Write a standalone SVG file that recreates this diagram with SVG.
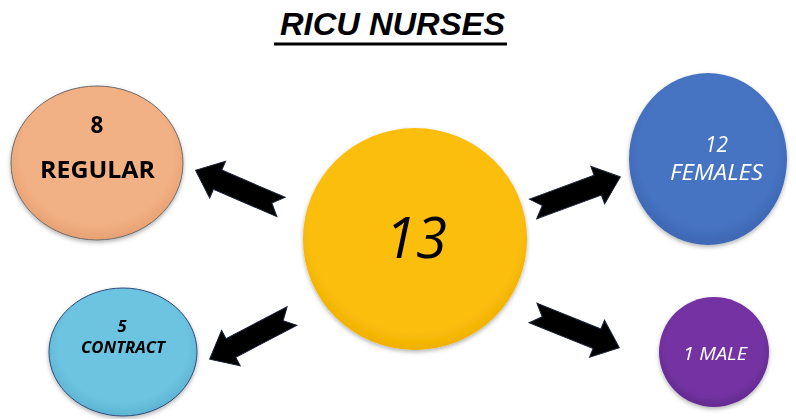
<svg xmlns="http://www.w3.org/2000/svg" xmlns:xlink="http://www.w3.org/1999/xlink" width="796" height="419" viewBox="0 0 796 419">
<style>
.title{font-family:"Liberation Sans",Arial,sans-serif;font-weight:bold;font-style:italic;font-size:31px;fill:#000}
.lbl{font-family:"Open Sans","Noto Sans",sans-serif;text-anchor:middle}
.arrow{fill:#000;stroke:#1a2233;stroke-width:1}
</style>
<defs>
<radialGradient id="gY" cx="50%" cy="45%" r="55%">
<stop offset="0.85" stop-color="#FBBE0B"/>
<stop offset="1" stop-color="#F0B000"/>
</radialGradient>
<radialGradient id="gO" cx="50%" cy="45%" r="55%">
<stop offset="0.8" stop-color="#F2B185"/>
<stop offset="1" stop-color="#E7A172"/>
</radialGradient>
<radialGradient id="gB" cx="50%" cy="45%" r="55%">
<stop offset="0.8" stop-color="#4673C3"/>
<stop offset="1" stop-color="#3E67B2"/>
</radialGradient>
<radialGradient id="gL" cx="50%" cy="45%" r="55%">
<stop offset="0.8" stop-color="#6CC4E1"/>
<stop offset="1" stop-color="#5DB4D2"/>
</radialGradient>
<radialGradient id="gP" cx="50%" cy="45%" r="55%">
<stop offset="0.8" stop-color="#7433A2"/>
<stop offset="1" stop-color="#642A90"/>
</radialGradient>
<filter id="sh" x="-20%" y="-20%" width="140%" height="140%">
<feDropShadow dx="0" dy="2" stdDeviation="2" flood-color="#000" flood-opacity="0.3"/>
</filter>
<path id="arr" d="M0,-10.5 L69,-10.5 L69,-20 L93,0 L69,20 L69,10.5 L0,10.5 L10,0 Z"/>
</defs>
<rect width="796" height="419" fill="#fff"/>
<g id="title">
<text class="title" x="280" y="35" textLength="225" lengthAdjust="spacingAndGlyphs">RICU NURSES</text>
<rect x="274" y="42.5" width="233" height="3" fill="#000"/>
</g>
<g id="connectors">
<use xlink:href="#arr" class="arrow" transform="translate(281,207) rotate(203.3)"/>
<use xlink:href="#arr" class="arrow" transform="translate(533,209) rotate(-20.2)"/>
<use xlink:href="#arr" class="arrow" transform="translate(292,316) rotate(152.3)"/>
<use xlink:href="#arr" class="arrow" transform="translate(533,313) rotate(21.9)"/>
</g>
<g id="center" filter="url(#sh)">
<ellipse cx="415" cy="239" rx="112" ry="111" fill="url(#gY)"/>
<text class="lbl" x="416" y="258" font-size="57" font-style="italic" fill="#000" textLength="62" lengthAdjust="spacingAndGlyphs">13</text>
</g>
<g id="regular" filter="url(#sh)">
<ellipse cx="97" cy="163" rx="86" ry="77" fill="url(#gO)" stroke="#6b6b6b" stroke-width="1"/>
<text class="lbl" x="97" y="133" font-size="22.5" font-weight="bold" fill="#000">8</text>
<text class="lbl" x="97.5" y="178" font-size="22.5" font-weight="bold" fill="#000" textLength="115" lengthAdjust="spacingAndGlyphs">REGULAR</text>
</g>
<g id="females" filter="url(#sh)">
<ellipse cx="708" cy="159" rx="79" ry="86" fill="url(#gB)"/>
<text class="lbl" x="716.5" y="152" font-size="21" font-style="italic" fill="#fff" textLength="23" lengthAdjust="spacingAndGlyphs">12</text>
<text class="lbl" x="716.5" y="180" font-size="21" font-style="italic" fill="#fff" textLength="93" lengthAdjust="spacingAndGlyphs">FEMALES</text>
</g>
<g id="contract" filter="url(#sh)">
<ellipse cx="123" cy="352" rx="74" ry="64" fill="url(#gL)" stroke="#2e4a7a" stroke-width="1"/>
<text class="lbl" x="122" y="332" font-size="16.5" font-weight="bold" font-style="italic" fill="#000">5</text>
<text class="lbl" x="123" y="353" font-size="16.5" font-weight="bold" font-style="italic" fill="#000" textLength="84" lengthAdjust="spacingAndGlyphs">CONTRACT</text>
</g>
<g id="male" filter="url(#sh)">
<ellipse cx="714" cy="352" rx="55" ry="55" fill="url(#gP)"/>
<text class="lbl" x="715" y="360" font-size="18.5" font-style="italic" fill="#fff" textLength="64" lengthAdjust="spacingAndGlyphs">1 MALE</text>
</g>
</svg>
